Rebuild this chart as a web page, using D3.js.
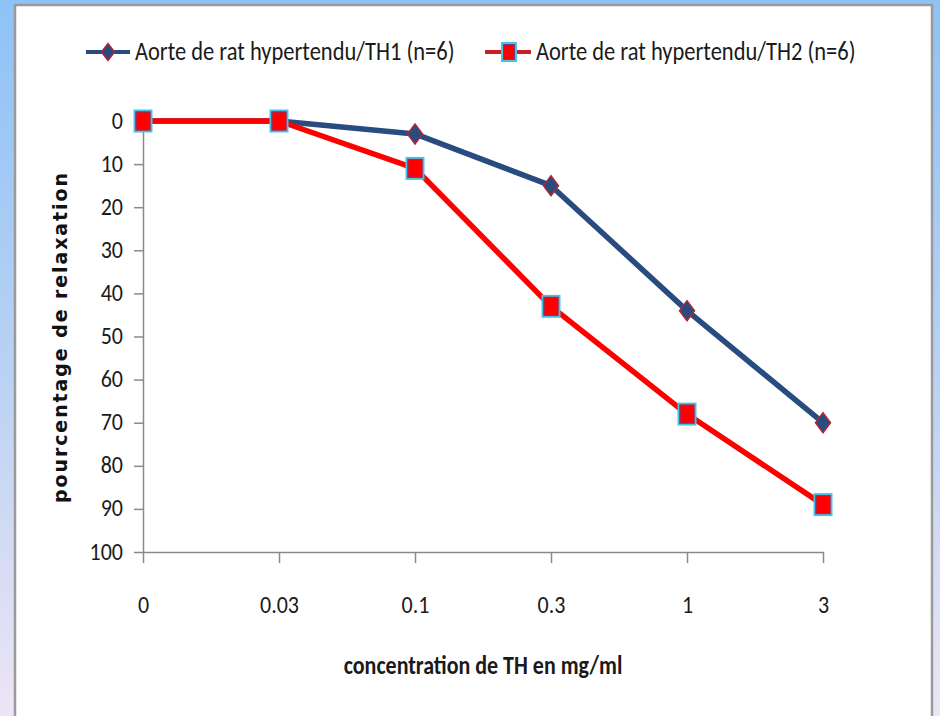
<!DOCTYPE html>
<html>
<head>
<meta charset="utf-8">
<script src="https://cdn.jsdelivr.net/npm/d3@7"></script>
<style>
  body { margin: 0; }
  svg { display: block; }
</style>
</head>
<body>
<div id="chart"></div>
<script>
var w = 940;
var h = 716;

// data
var concentrations = ["0", "0.03", "0.1", "0.3", "1", "3"];
var th1 = [0, 0, 3, 15, 44, 70];
var th2 = [0, 0, 11, 43, 68, 89];
var seriesNames = ["Aorte de rat hypertendu/TH1 (n=6)", "Aorte de rat hypertendu/TH2 (n=6)"];
var yTicks = [0, 10, 20, 30, 40, 50, 60, 70, 80, 90, 100];

var font = "Carlito, 'Liberation Sans Narrow', 'Open Sans', sans-serif";
var stretch = 1.15; // picture is a bit taller than wide

var svg = d3.select("#chart")
  .append("svg")
  .attr("width", w)
  .attr("height", h);

// slide background
var defs = svg.append("defs");
var grad = defs.append("linearGradient")
  .attr("id", "bg")
  .attr("x1", 0).attr("y1", 0).attr("x2", 0).attr("y2", 1);
grad.append("stop").attr("offset", "0%").attr("stop-color", "#8ec2f7");
grad.append("stop").attr("offset", "55%").attr("stop-color", "#bcd3f3");
grad.append("stop").attr("offset", "100%").attr("stop-color", "#ede5f5");

svg.append("rect")
  .attr("width", w).attr("height", h)
  .attr("fill", "url(#bg)");

// white chart panel
svg.append("rect")
  .attr("x", 15).attr("y", 5)
  .attr("width", 917).attr("height", 720)
  .attr("fill", "white")
  .attr("stroke", "#9a9a9a")
  .attr("stroke-width", 2.5);

var x = d3.scalePoint()
  .domain(concentrations)
  .range([143, 823]);

var y = d3.scaleLinear()
  .domain([0, 100])
  .range([121, 552]);

// y axis
var yAxis = svg.append("g")
  .attr("transform", "translate(143,0)")
  .call(d3.axisLeft(y).tickValues(yTicks).tickSize(9).tickSizeOuter(0).tickPadding(11));
yAxis.select(".domain").attr("stroke", "#8a8a8a").attr("stroke-width", 1.5);
yAxis.selectAll(".tick line").attr("stroke", "#8a8a8a").attr("stroke-width", 1.5);
yAxis.selectAll("text")
  .attr("font-family", font)
  .attr("font-size", 22)
  .attr("fill", "#1a1a1a")
  .attr("dy", "0.28em")
  .attr("transform", "scale(1," + stretch + ")");

// x axis
var xAxis = svg.append("g")
  .attr("transform", "translate(0,552)")
  .call(d3.axisBottom(x).tickSize(11).tickSizeOuter(0).tickPadding(26));
xAxis.select(".domain").attr("stroke", "#8a8a8a").attr("stroke-width", 1.5);
xAxis.selectAll(".tick line").attr("stroke", "#8a8a8a").attr("stroke-width", 1.5);
xAxis.selectAll("text")
  .attr("font-family", font)
  .attr("font-size", 22)
  .attr("fill", "#1a1a1a")
  .attr("transform", "scale(1," + stretch + ")");

// axis titles
svg.append("text")
  .attr("transform", "translate(483,674) scale(1," + stretch + ")")
  .attr("text-anchor", "middle")
  .attr("font-family", font)
  .attr("font-size", 22)
  .attr("font-weight", "bold")
  .attr("fill", "#1a1a1a")
  .text("concentration de TH en mg/ml");

svg.append("text")
  .attr("transform", "translate(67,338) rotate(-90)")
  .attr("text-anchor", "middle")
  .attr("font-family", "'DejaVu Sans', Verdana, sans-serif")
  .attr("font-size", 19)
  .attr("font-weight", "bold")
  .attr("fill", "#111")
  .attr("textLength", 330)
  .attr("lengthAdjust", "spacing")
  .text("pourcentage de relaxation");

// lines
var line = d3.line()
  .x(function(d, i) { return x(concentrations[i]); })
  .y(function(d) { return y(d); });

svg.append("path")
  .datum(th1)
  .attr("d", line)
  .attr("fill", "none")
  .attr("stroke", "#284b80")
  .attr("stroke-width", 5.5)
  .attr("stroke-linejoin", "round");

svg.append("path")
  .datum(th2)
  .attr("d", line)
  .attr("fill", "none")
  .attr("stroke", "#ff0000")
  .attr("stroke-width", 5.5)
  .attr("stroke-linejoin", "round");

function diamond(g, cx, cy, dw, dh) {
  g.append("path")
    .attr("d", "M" + cx + "," + (cy - dh / 2) + "L" + (cx + dw / 2) + "," + cy +
      "L" + cx + "," + (cy + dh / 2) + "L" + (cx - dw / 2) + "," + cy + "Z")
    .attr("fill", "#284b80")
    .attr("stroke", "#b0263a")
    .attr("stroke-width", 1.5);
}

function square(g, cx, cy, sw, sh) {
  g.append("rect")
    .attr("x", cx - sw / 2).attr("y", cy - sh / 2)
    .attr("width", sw).attr("height", sh)
    .attr("fill", "#ff0000")
    .attr("stroke", "#46c3e6")
    .attr("stroke-width", 2);
  g.append("rect")
    .attr("x", cx - sw / 2 + 1.5).attr("y", cy - sh / 2 + 1.5)
    .attr("width", sw - 3).attr("height", sh - 3)
    .attr("fill", "none")
    .attr("stroke", "#7a3b78")
    .attr("stroke-width", 1);
}

var markers = svg.append("g");
th1.forEach(function(d, i) {
  diamond(markers, x(concentrations[i]), y(d), 15, 20);
});
th2.forEach(function(d, i) {
  square(markers, x(concentrations[i]), y(d), 17, 21);
});

// legend
var legend = svg.append("g");
legend.append("line")
  .attr("x1", 86).attr("x2", 130).attr("y1", 52).attr("y2", 52)
  .attr("stroke", "#284b80").attr("stroke-width", 4);
diamond(legend, 108, 52, 13, 17);
legend.append("text")
  .attr("transform", "translate(135,60) scale(1," + stretch + ")")
  .attr("font-family", font)
  .attr("font-size", 22.5)
  .attr("fill", "#1a1a1a")
  .text(seriesNames[0]);

legend.append("line")
  .attr("x1", 485).attr("x2", 531).attr("y1", 52).attr("y2", 52)
  .attr("stroke", "#cc2020").attr("stroke-width", 4);
square(legend, 509, 52, 14, 18);
legend.append("text")
  .attr("transform", "translate(536,60) scale(1," + stretch + ")")
  .attr("font-family", font)
  .attr("font-size", 22.5)
  .attr("fill", "#1a1a1a")
  .text(seriesNames[1]);
</script>
</body>
</html>
